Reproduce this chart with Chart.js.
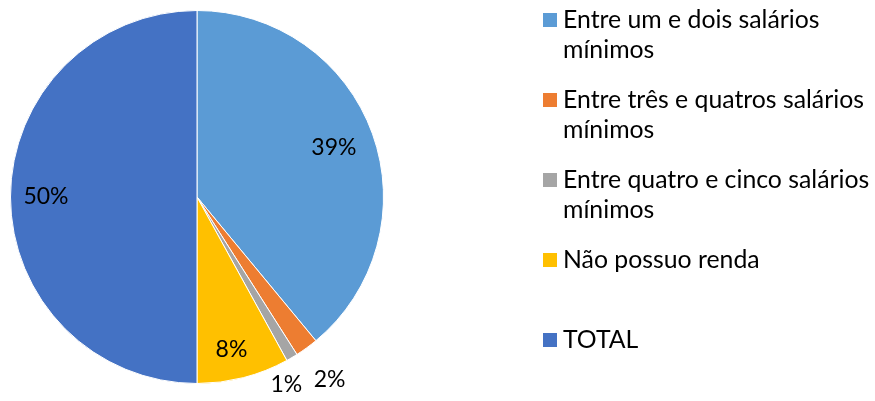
<!DOCTYPE html>
<html>
<head>
<meta charset="utf-8">
<script src="https://cdn.jsdelivr.net/npm/chart.js@4"></script>
<style>
  html, body { margin:0; padding:0; background:#fff; }
  #wrap { width:875px; height:401px; position:relative; }
</style>
</head>
<body>
<div id="wrap"><canvas id="chart" width="875" height="401"></canvas></div>
<script>
// legend labels (each an array of lines, as wrapped in the picture)
const LABELS = [
  ['Entre um e dois salários', 'mínimos'],
  ['Entre três e quatros salários', 'mínimos'],
  ['Entre quatro e cinco salários', 'mínimos'],
  ['Não possuo renda'],
  ['TOTAL']
];
const VALUES = [39, 2, 1, 8, 50];
const COLORS = ['#5B9BD5', '#ED7D31', '#A5A5A5', '#FFC000', '#4472C4'];
// where each % label sits: fraction of the radius, plus a small px nudge
const LABEL_POS = [0.78, 1.21, 1.11, 0.83, 0.81];
const LABEL_NUDGE = [[0,0], [0,0], [-16,9], [-4,3], [0,0]];

const FONT = 'Lato, "Open Sans", sans-serif';

// percentages on/next to the slices
const pctLabels = {
  id: 'pctLabels',
  afterDatasetsDraw(chart){
    const ctx = chart.ctx;
    const total = VALUES.reduce((s,v)=>s+v,0);
    chart.getDatasetMeta(0).data.forEach((arc,i)=>{
      const mid = (arc.startAngle + arc.endAngle)/2;
      const r = arc.outerRadius * LABEL_POS[i];
      const x = arc.x + Math.cos(mid)*r + LABEL_NUDGE[i][0];
      const y = arc.y + Math.sin(mid)*r + LABEL_NUDGE[i][1];
      ctx.save();
      ctx.font = '23px ' + FONT;
      ctx.fillStyle = '#000';
      ctx.textAlign = 'center'; ctx.textBaseline = 'middle';
      ctx.fillText(Math.round(VALUES[i]/total*100) + '%', x, y);
      ctx.restore();
    });
  }
};

// legend on the right, wrapped text
const sideLegend = {
  id: 'sideLegend',
  afterDraw(chart){
    const ctx = chart.ctx;
    ctx.save();
    ctx.font = '24.8px ' + FONT;
    ctx.textBaseline = 'middle';
    LABELS.forEach((lines,i)=>{
      const y0 = 20 + 80*i;
      ctx.fillStyle = COLORS[i];
      ctx.fillRect(543, y0-7, 14, 14);
      ctx.fillStyle = '#000';
      lines.forEach((t,j)=> ctx.fillText(t, 563, y0 + 30*j));
    });
    ctx.restore();
  }
};

new Chart(document.getElementById('chart'), {
  type: 'pie',
  data: {
    labels: LABELS,
    datasets: [{ data: VALUES, backgroundColor: COLORS, borderColor: '#fff', borderWidth: 1 }]
  },
  options: {
    responsive: false,
    animation: false,
    layout: { padding: { left: 10, top: 10, right: 491, bottom: 17 } },
    plugins: { legend: { display: false }, tooltip: { enabled: false } }
  },
  plugins: [pctLabels, sideLegend]
});
</script>
</body>
</html>
